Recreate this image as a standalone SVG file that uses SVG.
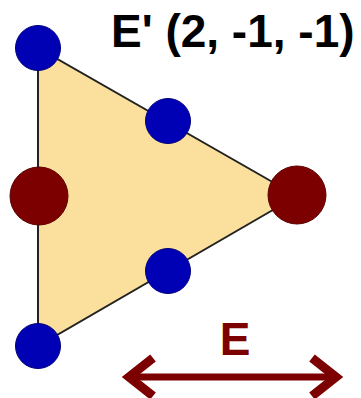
<svg xmlns="http://www.w3.org/2000/svg" width="361" height="398" viewBox="0 0 361 398">
<style>
.blue{fill:#0000b4;stroke:#00007a;stroke-width:1}
.red{fill:#7c0000;stroke:#5a0000;stroke-width:1}
.edge{fill:none;stroke:#222;stroke-width:2}
.t{font-family:"Liberation Sans",Arial,sans-serif;font-weight:bold}
</style>
<rect width="361" height="398" fill="#fff"/>
<g id="triangle">
<polygon points="38,48 38,346 297,196" fill="#fbdf9c"/>
</g>
<g id="connectors">
<polyline class="edge" points="297,196 38,48 38,346 297,196"/>
</g>
<g id="node-top"><circle class="blue" cx="38" cy="48" r="22.5"/></g>
<g id="node-upper-mid"><circle class="blue" cx="168" cy="121" r="22.5"/></g>
<g id="node-left-red"><circle class="red" cx="39" cy="196" r="29"/></g>
<g id="node-right-red"><circle class="red" cx="297" cy="195" r="29"/></g>
<g id="node-lower-mid"><circle class="blue" cx="168" cy="271" r="22.5"/></g>
<g id="node-bottom"><circle class="blue" cx="38" cy="346" r="22.5"/></g>
<g id="title"><text class="t" x="111" y="47" font-size="46" fill="#000">E' (2, -1, -1)</text></g>
<g id="arrow" stroke="#7c0000" fill="none">
<line x1="131" y1="377" x2="334" y2="377" stroke-width="7"/>
<polyline points="153,358 129,377 153,396" stroke-width="9" stroke-linejoin="miter"/>
<polyline points="312,358 336,377 312,396" stroke-width="9" stroke-linejoin="miter"/>
</g>
<g id="label-E"><text class="t" x="235" y="355" font-size="46" fill="#7c0000" text-anchor="middle">E</text></g>
</svg>
